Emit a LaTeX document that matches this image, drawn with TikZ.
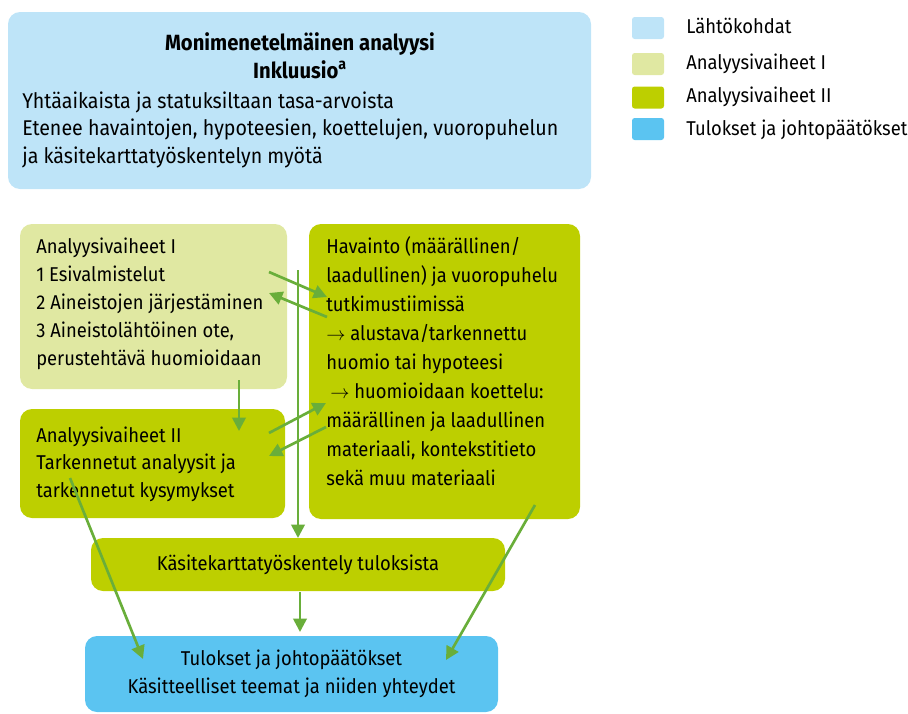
\documentclass[tikz,border=0pt]{standalone}
\usepackage{fontspec}
\setmainfont{Fira Sans}[FakeStretch=0.92]
\usepackage{xcolor}
\usetikzlibrary{arrows.meta, positioning, calc}

\definecolor{lahtoblue}{HTML}{BEE4F8}
\definecolor{vaiheyksi}{HTML}{E0E8A2}
\definecolor{vaihekaksi}{HTML}{BDCF00}
\definecolor{tulosblue}{HTML}{5BC4F1}
\definecolor{nuoligreen}{HTML}{69AE3A}

\tikzset{
  box/.style={rectangle, rounded corners=9pt, inner sep=0pt, text centered},
  legendbox/.style={rectangle, rounded corners=2pt, minimum width=24pt, minimum height=16.5pt, inner sep=0pt},
  txt/.style={align=left, inner sep=0pt, font=\fontsize{15}{21}\selectfont},
  nuoli/.style={line width=2pt, draw=nuoligreen, -{Triangle[length=10pt,width=10pt]}}
}

\begin{document}
\begin{tikzpicture}[x=0.75pt, y=-0.75pt]
    \useasboundingbox (0,0) rectangle (908,714);

    % Lähtökohdat (ylälaatikko)
    \node[box, fill=lahtoblue, minimum width=437.25pt, minimum height=132.75pt] (lahto) at (299.5,100.5) {};
    \node[txt, align=center, font=\fontsize{16.5}{20.3}\selectfont\bfseries, anchor=base] (otsikko) at (300,78)
        {Monimenetelmäinen analyysi\\Inkluusio\textsuperscript{a}};
    \node[txt, anchor=base west, font=\fontsize{16}{20.6}\selectfont] (lahtoteksti) at (22,163)
        {Yhtäaikaista ja statuksiltaan tasa-arvoista\\
         Etenee havaintojen, hypoteesien, koettelujen, vuoropuhelun\\
         ja käsitekarttatyöskentelyn myötä};

    % Selite
    \node[legendbox, fill=lahtoblue]  (sel1) at (648,28) {};
    \node[legendbox, fill=vaiheyksi]  (sel2) at (648,64) {};
    \node[legendbox, fill=vaihekaksi] (sel3) at (648,97.5) {};
    \node[legendbox, fill=tulosblue]  (sel4) at (648,129) {};
    \node[txt, anchor=base west] (sel1txt) at (686,33)  {Lähtökohdat};
    \node[txt, anchor=base west] (sel2txt) at (686,69)  {Analyysivaiheet I};
    \node[txt, anchor=base west] (sel3txt) at (686,102.5) {Analyysivaiheet II};
    \node[txt, anchor=base west] (sel4txt) at (686,135) {Tulokset ja johtopäätökset};

    % Analyysivaiheet I ja II
    \node[box, fill=vaiheyksi, minimum width=200.25pt, minimum height=123.75pt] (vaihe1) at (153.5,306.5) {};
    \node[txt, anchor=base west] (vaihe1txt) at (36,365)
        {Analyysivaiheet I\\1 Esivalmistelut\\2 Aineistojen järjestäminen\\3 Aineistolähtöinen ote,\\perustehtävä huomioidaan};

    \node[box, fill=vaihekaksi, minimum width=198.75pt, minimum height=81.75pt] (vaihe2) at (152.5,463.5) {};
    \node[txt, anchor=base west, font=\fontsize{15}{20.6}\selectfont] (vaihe2txt) at (36,497)
        {Analyysivaiheet II\\Tarkennetut analyysit ja\\tarkennetut kysymykset};

    % Havainto ja vuoropuhelu
    \node[box, fill=vaihekaksi, minimum width=203.25pt, minimum height=221.25pt] (havainto) at (444.5,371.5) {};
    \node[txt, anchor=base west, font=\fontsize{15}{21.7}\selectfont] (havaintotxt) at (326,485)
        {Havainto (määrällinen/\\laadullinen) ja vuoropuhelu\\tutkimustiimissä\\
         $\rightarrow$ alustava/tarkennettu\\huomio tai hypoteesi\\
         \hspace{3pt}$\rightarrow$ huomioidaan koettelu:\\määrällinen ja laadullinen\\
         materiaali, kontekstitieto\\sekä muu materiaali};

    % Käsitekartta ja tulokset
    \node[box, fill=vaihekaksi, minimum width=310.5pt, minimum height=39.75pt, font=\fontsize{15}{21}\selectfont] (kasite) at (298,564.5)
        {Käsitekarttatyöskentely tuloksista};
    \node[box, fill=tulosblue, minimum width=309.75pt, minimum height=57pt, align=center, font=\fontsize{15}{21}\selectfont] (tulokset) at (291.5,674)
        {Tulokset ja johtopäätökset\\Käsitteelliset teemat ja niiden yhteydet};

    % Nuolten päätepisteet
    \coordinate (v1a) at (269,272);  \coordinate (ha) at (327,297);
    \coordinate (hb) at (327,317);   \coordinate (v1b) at (269,293);
    \coordinate (v2a) at (269,433);  \coordinate (hc) at (326,403);
    \coordinate (hd) at (326,427);   \coordinate (v2b) at (269,456);
    \coordinate (v1ala) at (239,380); \coordinate (v2yla) at (239,431);
    \coordinate (pysty1) at (298,270); \coordinate (pysty2) at (298,538);
    \coordinate (v2ala) at (70,478); \coordinate (tvas) at (143,659);
    \coordinate (hala) at (535,505); \coordinate (toik) at (446,660);
    \coordinate (kala) at (300,592); \coordinate (tyla) at (300,632);

    % Nuolet
    \draw[nuoli] (v1a) -- (ha);
    \draw[nuoli] (hb) -- (v1b);
    \draw[nuoli] (v2a) -- (hc);
    \draw[nuoli] (hd) -- (v2b);
    \draw[nuoli] (v1ala) -- (v2yla);
    \draw[nuoli] (pysty1) -- (pysty2);
    \draw[nuoli] (v2ala) -- (tvas);
    \draw[nuoli] (hala) -- (toik);
    \draw[nuoli] (kala) -- (tyla);
\end{tikzpicture}
\end{document}
